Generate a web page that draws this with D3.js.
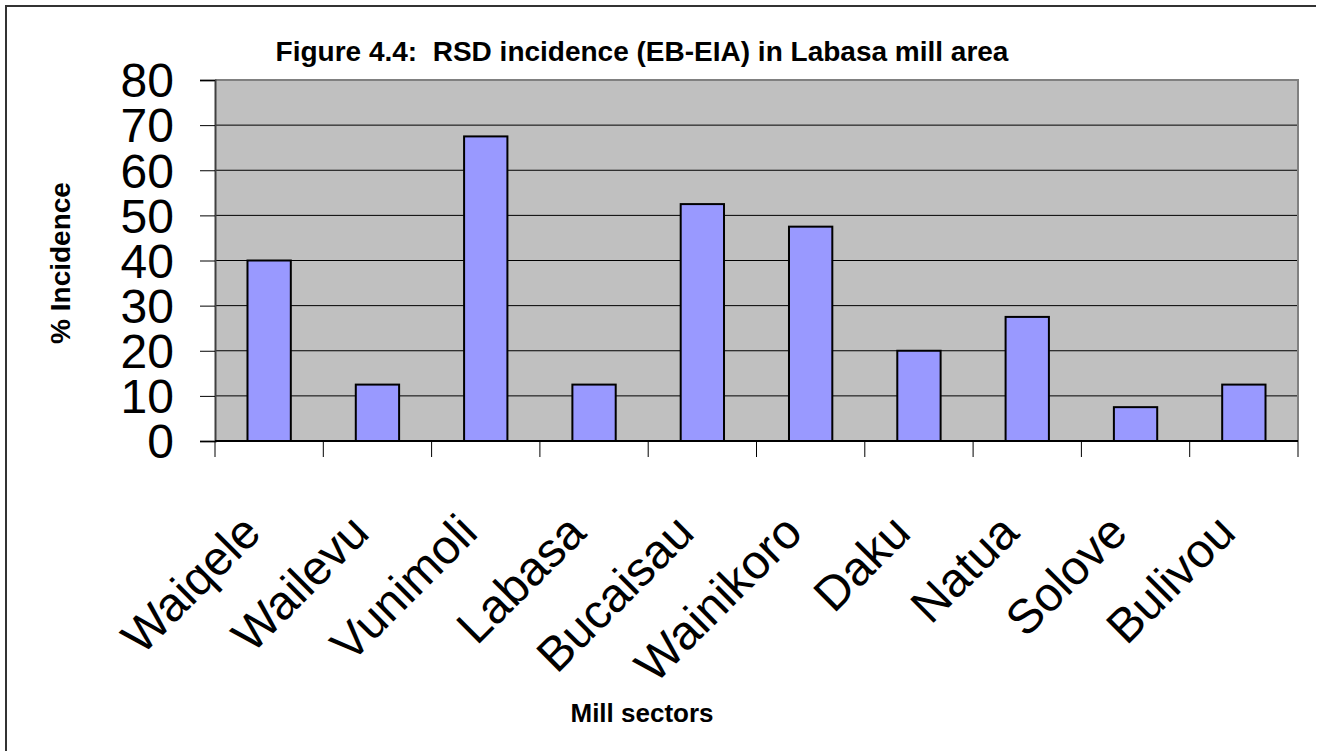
<!DOCTYPE html>
<html>
<head>
<meta charset="utf-8">
<script src="https://cdn.jsdelivr.net/npm/d3@7"></script>
<style>
  html, body { margin: 0; padding: 0; background: #fff; }
  svg { display: block; font-family: Arial, "Liberation Sans", sans-serif; }
  .pre { white-space: pre; }
</style>
</head>
<body>
<svg id="chart" width="1320" height="751"></svg>
<script>
// RSD incidence by mill sector, Labasa mill area
const sectors = ["Waiqele", "Wailevu", "Vunimoli", "Labasa", "Bucaisau",
                 "Wainikoro", "Daku", "Natua", "Solove", "Bulivou"];
const incidence = [40, 12.5, 67.5, 12.5, 52.5, 47.5, 20, 27.5, 7.5, 12.5];
const yTicks = [0, 10, 20, 30, 40, 50, 60, 70, 80];

const titleText = "Figure 4.4:  RSD incidence (EB-EIA) in Labasa mill area";
const yTitle = "% Incidence";
const xTitle = "Mill sectors";

const svg = d3.select("#chart");
const plot = { left: 215, right: 1298, top: 80, bottom: 441 };

const xBand = d3.scaleBand()
  .domain(sectors)
  .range([plot.left, plot.right]);

const y = d3.scaleLinear()
  .domain([0, 80])
  .range([plot.bottom, plot.top]);

// outer frame
svg.append("path")
  .attr("d", `M6,751 L6,6 L1316,6`)
  .attr("fill", "none")
  .attr("stroke", "#333")
  .attr("stroke-width", 2);

// plot background
svg.append("rect")
  .attr("x", plot.left).attr("y", plot.top)
  .attr("width", plot.right - plot.left)
  .attr("height", plot.bottom - plot.top)
  .attr("fill", "#C0C0C0");

// horizontal gridlines
svg.append("g")
  .selectAll("line")
  .data(yTicks.filter(d => d > 0 && d < 80))
  .join("line")
  .attr("x1", plot.left).attr("x2", plot.right)
  .attr("y1", d => y(d)).attr("y2", d => y(d))
  .attr("stroke", "#000")
  .attr("stroke-width", 1);

// plot frame: top and right in grey
svg.append("path")
  .attr("d", `M${plot.left},${plot.top} L${plot.right},${plot.top} L${plot.right},${plot.bottom}`)
  .attr("fill", "none")
  .attr("stroke", "#808080")
  .attr("stroke-width", 2);

// bars
svg.append("g")
  .selectAll("rect")
  .data(sectors.map((s, i) => ({ s, v: incidence[i] })))
  .join("rect")
  .attr("x", d => xBand(d.s) + xBand.bandwidth() * 0.3)
  .attr("width", xBand.bandwidth() * 0.4)
  .attr("y", d => y(d.v))
  .attr("height", d => y(0) - y(d.v))
  .attr("fill", "#9999FF")
  .attr("stroke", "#000")
  .attr("stroke-width", 2);

// y axis
const yAxis = d3.axisLeft(y)
  .tickValues(yTicks)
  .tickSize(15)
  .tickPadding(26)
  .tickFormat(d3.format("d"));
const gy = svg.append("g")
  .attr("transform", `translate(${plot.left},0)`)
  .call(yAxis);
gy.select(".domain").attr("stroke", "#404040").attr("stroke-width", 2);
gy.selectAll(".tick line").attr("stroke", "#000");
gy.selectAll(".tick text")
  .attr("font-size", 48)
  .attr("font-family", "Arial, 'Liberation Sans', sans-serif")
  .attr("fill", "#000")
  .attr("dy", "0.35em");

// x axis: ticks on band boundaries
const gx = svg.append("g")
  .attr("transform", `translate(0,${plot.bottom})`);
gx.append("line")
  .attr("x1", plot.left).attr("x2", plot.right)
  .attr("y1", 0).attr("y2", 0)
  .attr("stroke", "#000").attr("stroke-width", 2);
const bounds = sectors.map(s => xBand(s)).concat([plot.right]);
gx.selectAll("line.tick")
  .data(bounds)
  .join("line")
  .attr("class", "tick")
  .attr("x1", d => d).attr("x2", d => d)
  .attr("y1", 0).attr("y2", 16)
  .attr("stroke", "#000");

// category labels, rotated
svg.append("g")
  .selectAll("text")
  .data(sectors)
  .join("text")
  .attr("transform", d => `translate(${xBand(d) + xBand.bandwidth() / 2 - 6},535) rotate(-45)`)
  .attr("text-anchor", "end")
  .attr("font-size", 48)
  .attr("fill", "#000")
  .text(d => d);

// titles
svg.append("text")
  .attr("class", "pre")
  .attr("x", 642).attr("y", 61)
  .attr("text-anchor", "middle")
  .attr("font-size", 28)
  .attr("font-weight", "bold")
  .text(titleText);

svg.append("text")
  .attr("x", 642).attr("y", 722)
  .attr("text-anchor", "middle")
  .attr("font-size", 26)
  .attr("font-weight", "bold")
  .text(xTitle);

svg.append("text")
  .attr("transform", `translate(70,263) rotate(-90)`)
  .attr("text-anchor", "middle")
  .attr("font-size", 28)
  .attr("font-weight", "bold")
  .text(yTitle);
</script>
</body>
</html>
